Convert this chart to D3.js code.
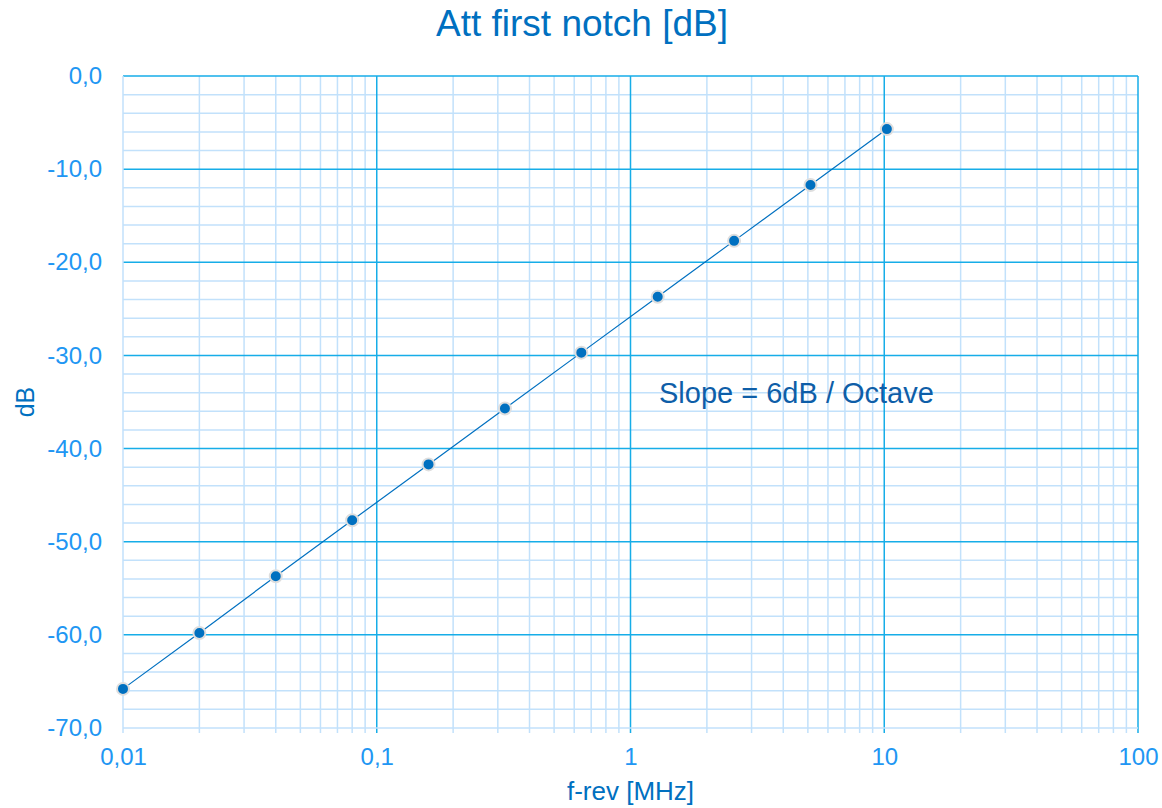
<!DOCTYPE html>
<html>
<head>
<meta charset="utf-8">
<script src="https://cdn.jsdelivr.net/npm/d3@7"></script>
<style>
  body { margin: 0; background: #fff; }
  svg text { font-family: "Liberation Sans", Arial, sans-serif; }
</style>
</head>
<body>
<svg id="chart" width="1162" height="808"></svg>
<script>
"use strict";

// f-rev in MHz, attenuation in dB
var freqs = [0.01, 0.02, 0.04, 0.08, 0.16, 0.32, 0.64, 1.28, 2.56, 5.12, 10.24];
var attDb = [-65.8, -59.8, -53.7, -47.7, -41.7, -35.7, -29.7, -23.7, -17.7, -11.7, -5.7];
var xTickValues = [0.01, 0.1, 1, 10, 100];
var xTickLabels = ["0,01", "0,1", "1", "10", "100"];
var yTickValues = [0, -10, -20, -30, -40, -50, -60, -70];

var margin = {top: 76, right: 24, bottom: 80, left: 123};
var width = 1162 - margin.left - margin.right;
var height = 808 - margin.top - margin.bottom;

var svg = d3.select("#chart");
var g = svg.append("g").attr("transform", "translate(" + margin.left + "," + margin.top + ")");

var x = d3.scaleLog().domain([0.01, 100]).range([0, width]);
var y = d3.scaleLinear().domain([-70, 0]).range([height, 0]);

var minorCol = "#c2e1fb", majorCol = "#16ade8";

// minor vertical grid (2..9 each decade)
var minorX = [];
[0.01, 0.1, 1, 10].forEach(function(d) {
  for (var k = 2; k <= 9; k++) minorX.push(d * k);
});
g.selectAll("line.mx").data(minorX).enter().append("line")
  .attr("x1", function(d) { return x(d); }).attr("x2", function(d) { return x(d); })
  .attr("y1", 0).attr("y2", height + 5)
  .attr("stroke", minorCol).attr("stroke-width", 1.5);

// minor horizontal grid every 2 dB
var minorY = d3.range(-68, 0, 2).filter(function(v) { return v % 10 != 0; });
g.selectAll("line.my").data(minorY).enter().append("line")
  .attr("x1", 0).attr("x2", width)
  .attr("y1", function(d) { return y(d); }).attr("y2", function(d) { return y(d); })
  .attr("stroke", minorCol).attr("stroke-width", 1.5);

// major grid
g.selectAll("line.My").data(yTickValues.filter(function(v) { return v > -70; })).enter().append("line")
  .attr("x1", 0).attr("x2", width)
  .attr("y1", function(d) { return y(d); }).attr("y2", function(d) { return y(d); })
  .attr("stroke", majorCol).attr("stroke-width", 1.5);
g.selectAll("line.Mx").data(xTickValues.filter(function(v) { return v > 0.01; })).enter().append("line")
  .attr("x1", function(d) { return x(d); }).attr("x2", function(d) { return x(d); })
  .attr("y1", 0).attr("y2", height + 5)
  .attr("stroke", majorCol).attr("stroke-width", 1.5);

// axis lines (left and bottom, light)
g.append("line").attr("x1", 0).attr("x2", 0).attr("y1", 0).attr("y2", height + 5)
  .attr("stroke", minorCol).attr("stroke-width", 1.5);
g.append("line").attr("x1", 0).attr("x2", width).attr("y1", height).attr("y2", height)
  .attr("stroke", minorCol).attr("stroke-width", 1.5);

// tick labels
var labelCol = "#2196f3";
var xAxis = d3.axisBottom(x).tickValues(xTickValues)
  .tickFormat(function(d, i) { return xTickLabels[i]; }).tickSize(0).tickPadding(20);
var xg = g.append("g").attr("transform", "translate(0," + height + ")").call(xAxis);
xg.select(".domain").remove();
xg.selectAll("text").attr("fill", labelCol).style("font-size", "24px");

var yAxis = d3.axisLeft(y).tickValues(yTickValues)
  .tickFormat(function(d) { return (d < 0 ? "-" : "") + Math.abs(d).toFixed(1).replace(".", ","); })
  .tickSize(0).tickPadding(21);
var yg = g.append("g").call(yAxis);
yg.select(".domain").remove();
yg.selectAll("text").attr("fill", labelCol).style("font-size", "24px");

// series
var pts = freqs.map(function(f, i) { return [f, attDb[i]]; });
var line = d3.line().x(function(d) { return x(d[0]); }).y(function(d) { return y(d[1]); });
g.append("path").datum(pts).attr("d", line)
  .attr("fill", "none").attr("stroke", "#0070c0").attr("stroke-width", 1.2);
g.selectAll("circle.pt").data(pts).enter().append("circle")
  .attr("cx", function(d) { return x(d[0]); }).attr("cy", function(d) { return y(d[1]); })
  .attr("r", 6).attr("fill", "#0070c0")
  .attr("stroke", "#dedede").attr("stroke-width", 2);

// annotation
g.append("text").attr("x", 659 - margin.left).attr("y", 403 - margin.top)
  .attr("fill", "#0e5ea8").style("font-size", "29px").text("Slope = 6dB / Octave");

// titles
svg.append("text").attr("x", 582).attr("y", 36).attr("text-anchor", "middle")
  .attr("fill", "#0070c0").style("font-size", "37px").text("Att first notch [dB]");
svg.append("text").attr("x", x(1) + margin.left).attr("y", 800).attr("text-anchor", "middle")
  .attr("fill", "#0070c0").style("font-size", "26px").text("f-rev [MHz]");
svg.append("text").attr("transform", "translate(34,402) rotate(-90)").attr("text-anchor", "middle")
  .attr("fill", "#0070c0").style("font-size", "25px").text("dB");
</script>
</body>
</html>
